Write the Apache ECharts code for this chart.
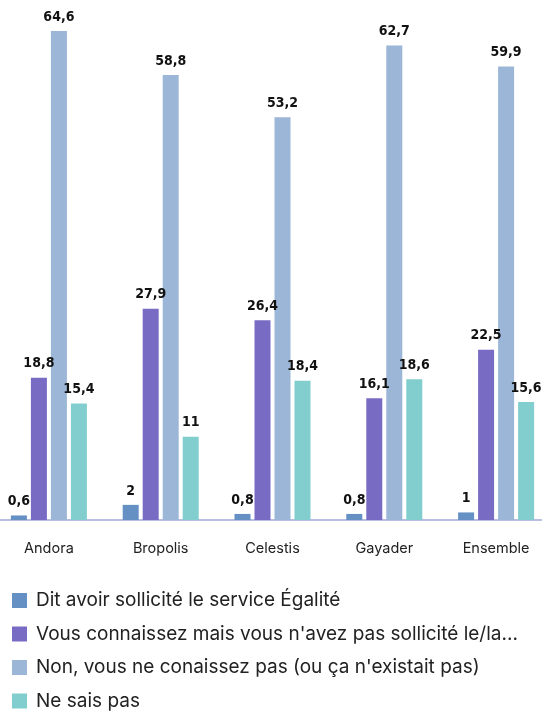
<!DOCTYPE html>
<html>
<head>
<meta charset="utf-8">
<script src="https://cdn.jsdelivr.net/npm/echarts@6/dist/echarts.min.js"></script>
<style>
html,body{margin:0;padding:0;background:#fff;overflow:hidden;}
#c{width:559px;height:713px;margin-left:-7px;}
</style>
</head>
<body>
<div id="c"></div>
<script>
const categories = ['Andora', 'Bropolis', 'Celestis', 'Gayader', 'Ensemble'];
const seriesNames = [
  'Dit avoir sollicité le service Égalité',
  "Vous connaissez mais vous n'avez pas sollicité le/la...",
  "Non, vous ne conaissez pas (ou ça n'existait pas)",
  'Ne sais pas'
];
const ditAvoir = [0.6, 2, 0.8, 0.8, 1];
const connaissez = [18.8, 27.9, 26.4, 16.1, 22.5];
const nonConnaissez = [64.6, 58.8, 53.2, 62.7, 59.9];
const neSaisPas = [15.4, 11, 18.4, 18.6, 15.6];
const colors = ['#6590c4', '#786bc3', '#9bb6d7', '#82cdcd'];

const chart = echarts.init(document.getElementById('c'), null, {renderer: 'canvas'});
const dataSets = [ditAvoir, connaissez, nonConnaissez, neSaisPas];
chart.setOption({
  animation: false,
  color: colors,
  grid: {left: 0, right: 0, top: 31, bottom: 193, containLabel: false},
  xAxis: {
    type: 'category',
    data: categories,
    axisLine: {show: true, lineStyle: {color: '#9eaad9', width: 1.5}},
    axisTick: {show: false},
    axisLabel: {color: '#222', fontSize: 14.5, fontFamily: 'Inter', margin: 21}
  },
  yAxis: {type: 'value', min: 0, max: 64.6, show: false, splitLine: {show: false}},
  legend: {
    orient: 'vertical',
    left: 14,
    top: 586,
    height: 200,
    icon: 'rect',
    itemWidth: 15,
    itemHeight: 15,
    itemGap: 14.5,
    textStyle: {fontSize: 19, color: '#222', fontFamily: 'Inter', padding: [0, 0, 0, 4]},
    data: seriesNames
  },
  series: dataSets.map((d, i) => ({
    name: seriesNames[i],
    type: 'bar',
    data: d,
    barWidth: 16,
    barGap: '25%',
    itemStyle: {color: colors[i]},
    label: {
      show: true,
      position: 'top',
      distance: 7,
      color: '#111',
      fontFamily: 'DejaVu Sans Condensed',
      fontWeight: 'bold',
      fontSize: 14,
      formatter: p => String(p.value).replace('.', ',')
    }
  }))
});
</script>
</body>
</html>
